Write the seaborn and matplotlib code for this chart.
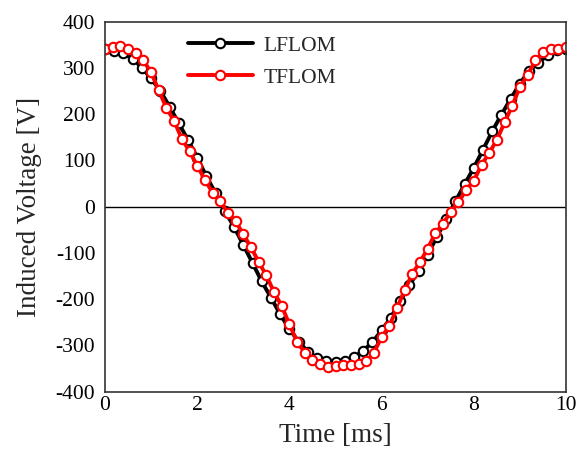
import numpy as np
import pandas as pd
import matplotlib
matplotlib.use("Agg")
import matplotlib.pyplot as plt
import seaborn as sns

# LFLOM: 0.2 ms step
t_lflom = [round(0.2 * i, 1) for i in range(51)]
v_lflom = [340, 337, 331, 320, 300, 277, 250, 216, 180, 144,
           106, 65, 29, -10, -44, -83, -122, -162, -197, -233,
           -265, -292, -314, -328, -335, -336, -333, -326, -312, -293,
           -268, -240, -205, -170, -140, -104, -65, -28, 11, 48,
           84, 123, 163, 199, 233, 266, 294, 311, 327, 338, 340]

# TFLOM: 1/6 ms step
t_tflom = [i / 6 for i in range(61)]
v_tflom = [341, 345, 348, 340, 331, 316, 290, 251, 213, 185,
           146, 120, 88, 58, 30, 12, -14, -32, -60, -88,
           -120, -149, -185, -215, -255, -292, -316, -332, -341, -348,
           -344, -343, -343, -341, -334, -316, -282, -259, -219, -181,
           -145, -120, -91, -57, -37, -11, 9, 36, 56, 90,
           116, 144, 182, 218, 259, 284, 316, 334, 341, 341, 345]

df_l = pd.DataFrame({"t": t_lflom, "v": v_lflom})
df_t = pd.DataFrame({"t": t_tflom, "v": v_tflom})

sns.set_style("white")
plt.rcParams["font.family"] = ["Liberation Serif", "DejaVu Serif"]
plt.rcParams["axes.unicode_minus"] = False

fig = plt.figure(figsize=(5.77, 4.59), dpi=100)
ax = fig.add_axes([0.182, 0.147, 0.799, 0.806])

ax.axhline(0, color="black", lw=1.0, zorder=1)

sns.lineplot(data=df_l, x="t", y="v", ax=ax, color="black", lw=2.8,
             marker="o", markersize=6.8, markerfacecolor="white",
             markeredgecolor="black", markeredgewidth=1.5, label="LFLOM")
sns.lineplot(data=df_t, x="t", y="v", ax=ax, color="red", lw=2.8,
             marker="o", markersize=6.8, markerfacecolor="white",
             markeredgecolor="red", markeredgewidth=1.5, label="TFLOM")

ax.set_xlim(0, 10)
ax.set_ylim(-400, 400)
ax.set_xticks(range(0, 11, 2))
ax.set_yticks(range(-400, 401, 100))
ax.tick_params(axis="y", length=0, labelsize=15.5, pad=7, colors="black")
ax.tick_params(axis="x", length=0, labelsize=15.5, pad=3, colors="black")
ax.set_xlabel("Time [ms]", fontsize=19.5, labelpad=6)
ax.set_ylabel("Induced Voltage [V]", fontsize=19.5, labelpad=10)

for s in ax.spines.values():
    s.set_color("#333333")
    s.set_linewidth(1.2)

ax.legend(loc="upper left", bbox_to_anchor=(0.18, 0.962), frameon=False,
          fontsize=15.5, handlelength=3.0, handletextpad=0.5,
          labelspacing=0.55, borderpad=0, borderaxespad=0)

fig.savefig("out.png", dpi=100)
